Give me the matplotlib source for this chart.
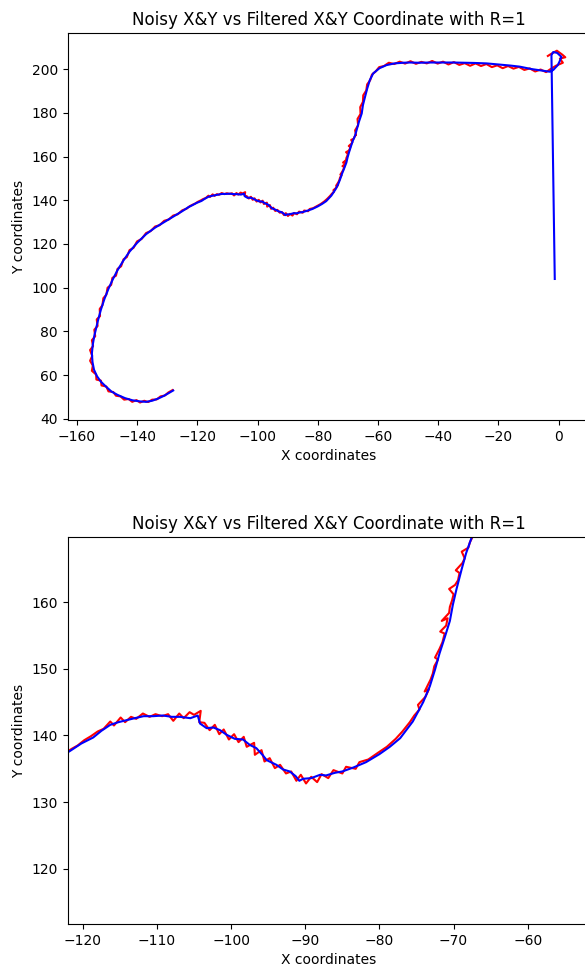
import numpy as np
import matplotlib; matplotlib.use('Agg')
import matplotlib.pyplot as plt

# filtered (Kalman) track
filt_x = [-1.3, -2.4, -1.8, -0.5, 0.9, 0.3, -0.3, -1.8, -3.0,
          -6.0, -9.0, -12.9, -16.0, -20.0, -24.0, -28.0, -31.5, -35.1, -39.0, -42.8,
          -46.5, -49.5, -51.6, -54.5, -57.2, -59.5, -61.6, -62.7, -63.6, -64.3, -65.0,
          -65.4, -66.3, -67.1, -67.6, -68.3, -68.9, -69.6, -70.1, -70.5, -71.2, -71.9,
          -72.5, -73.2, -74.1, -75.5, -77.2, -78.6, -80.0, -81.8, -83.5, -85.0, -86.0,
          -87.2, -88.0, -89.2, -90.3, -90.8, -91.3, -92.1, -93.0, -93.9, -95.2, -95.7,
          -96.6, -97.5, -98.4, -99.5, -100.6, -101.5, -102.4, -103.3, -104.2, -104.5,
          -105.5, -106.9, -108.0, -109.2, -110.5, -111.8, -113.0, -114.1, -115.2,
          -116.3, -117.5, -118.6, -120.2, -121.7, -123.0,
          -125.0, -128.0, -131.0, -134.0, -137.0, -140.0, -142.5, -144.5, -146.5,
          -148.0, -149.5, -150.8, -152.0, -152.8, -153.5, -154.2, -154.7, -155.0,
          -154.8, -154.3, -153.3, -152.0, -150.5, -148.5, -146.5, -144.0, -141.5,
          -139.0, -137.0, -135.0, -133.0, -131.0, -129.5, -128.0]
filt_y = [104.0, 206.4, 207.8, 207.4, 205.6, 203.5, 201.8, 199.6, 198.8,
          199.4, 200.0, 201.1, 201.6, 202.1, 202.6, 202.8, 202.9, 203.0, 203.0, 203.0,
          202.9, 203.0, 202.9, 202.6, 201.8, 200.4, 198.0, 195.0, 191.0, 187.3, 183.5,
          179.7, 176.0, 172.1, 169.6, 167.4, 165.0, 162.0, 159.6, 157.2, 154.7, 152.3,
          149.9, 147.4, 145.0, 142.1, 139.6, 138.3, 137.2, 136.0, 135.2, 134.6, 134.4,
          134.0, 134.1, 133.6, 133.5, 133.2, 133.9, 134.6, 134.9, 135.6, 136.3, 137.0,
          138.1, 138.6, 139.4, 139.5, 140.1, 140.8, 141.2, 141.1, 141.8, 143.0,
          142.6, 142.8, 142.8, 143.0, 142.9, 142.9, 142.6, 142.3, 142.0,
          141.6, 140.7, 139.7, 138.8, 137.7, 136.8,
          135.0, 132.5, 130.0, 127.5, 124.5, 120.5, 116.5, 112.5, 108.0,
          104.0, 99.5, 95.0, 90.0, 86.0, 82.0, 78.0, 74.0, 70.0,
          66.0, 62.5, 59.5, 57.0, 55.0, 52.5, 51.0, 49.5, 48.5,
          48.0, 47.8, 48.3, 49.3, 50.6, 51.8, 53.0]

# noisy measurements
noisy_x = [-3.6, -2.2, -0.6, 1.2, 2.2, 0.4, 1.4, -0.8, -2.5, -4.2,
           -6.0, -7.8, -9.6, -11.4, -13.2, -15.0, -16.8, -18.6, -20.4, -22.2,
           -24.0, -25.8, -27.6, -29.4, -31.2, -33.0, -34.8, -36.6, -38.4, -40.2,
           -42.0, -43.8, -45.6, -47.4, -49.2, -51.0, -52.8, -54.6, -56.4, -58.0,
           -59.6, -60.8, -62.0, -62.6, -63.6, -63.9, -64.9, -65.0, -65.9, -65.8,
           -66.8, -66.6, -67.6, -67.3,
           -67.4, -67.8, -68.0, -68.9, -68.5, -68.8, -69.7, -69.2, -69.4, -69.8,
           -70.6, -70.0, -70.2, -70.5, -70.6, -71.6, -70.8, -71.0, -71.8, -71.2,
           -71.5, -71.9, -72.5, -72.1, -72.6, -72.8, -73.1, -73.9, -73.3, -73.8,
           -74.8, -74.6, -75.3,
           -75.9, -76.9, -77.8, -79.0, -80.2, -81.5, -82.7, -83.2, -84.5, -85.0,
           -86.2, -86.9, -87.8, -88.4, -89.2, -89.9, -90.6, -91.2, -91.9, -92.6,
           -93.4, -94.1, -94.8, -95.5, -95.9, -96.8, -96.9, -97.9, -98.3, -99.0,
           -99.6, -100.3, -101.0, -101.6, -102.2, -102.9, -103.6, -104.3, -104.1,
           -105.0, -105.6, -106.4, -107.0, -107.8, -108.5, -109.3, -110.2, -111.0,
           -111.9, -112.8, -113.5, -114.3, -114.9, -115.8, -116.3, -117.2, -118.0,
           -118.9, -119.8, -120.7, -121.5, -122.5, -123.5,
           -125.0, -126.5, -128.0, -129.5, -131.0, -132.5, -134.0, -135.5, -137.0,
           -138.5, -140.0, -141.2, -142.5, -143.4, -144.5, -145.3, -146.5, -147.0,
           -148.2, -148.6, -149.8, -150.2, -151.2, -151.5, -152.4, -152.3, -153.4,
           -153.1, -154.2, -153.9, -155.0, -154.6, -155.6, -154.9, -155.6, -154.7,
           -155.0, -153.6, -153.5, -152.0, -151.8, -150.2, -149.5, -147.9, -147.0,
           -145.5, -144.3, -142.8, -141.6, -140.2, -139.0, -137.6, -136.3, -135.0,
           -133.5, -132.2, -130.8, -129.6, -128.2]
noisy_y = [206.0, 207.2, 208.4, 206.6, 205.4, 204.8, 202.9, 201.6, 200.2, 198.6,
           199.8, 198.9, 200.3, 199.6, 201.0, 200.2, 201.4, 200.4, 201.7, 200.9,
           202.3, 201.4, 202.6, 201.5, 202.7, 201.9, 203.2, 202.1, 203.4, 202.5,
           203.7, 202.6, 203.3, 202.4, 203.6, 202.5, 203.4, 202.3, 202.9, 201.4,
           200.9, 198.9, 197.5, 194.9, 193.0, 190.2, 188.0, 185.0, 182.6, 179.5,
           177.2, 174.3, 172.0, 169.8,
           169.9, 169.0, 168.2, 167.6, 166.6, 165.9, 164.8, 164.4, 163.3, 162.6,
           162.0, 161.2, 160.3, 159.3, 158.4, 157.2, 157.6, 156.5, 155.6, 155.3,
           154.0, 153.0, 151.7, 151.4, 150.4, 149.3, 148.4, 146.6, 147.0, 145.8,
           144.6, 143.9, 143.0,
           142.0, 140.6, 139.5, 138.3, 137.4, 136.4, 136.0, 135.0, 135.3, 134.3,
           134.8, 133.6, 134.2, 133.0, 133.8, 132.8, 134.1, 133.2, 134.6, 134.3,
           135.6, 135.1, 136.6, 136.1, 137.8, 137.1, 138.9, 138.3, 139.8, 139.0,
           140.2, 139.4, 140.9, 140.2, 141.6, 140.8, 141.9, 142.0, 143.7,
           143.1, 143.5, 142.6, 143.3, 142.2, 143.2, 142.9, 143.2, 142.8,
           143.3, 142.5, 142.8, 142.0, 142.7, 141.5, 142.1, 141.0, 140.6,
           139.9, 139.3, 138.5, 138.0, 137.3, 136.2,
           135.4, 133.6, 133.0, 131.2, 130.6, 128.6, 128.0, 125.9, 125.0,
           122.3, 121.2, 118.2, 117.2, 114.0, 113.0, 109.8, 108.6, 105.5,
           104.5, 101.3, 100.0, 96.8, 95.2, 92.0, 90.3, 87.0, 85.5,
           82.5, 80.8, 77.8, 76.0, 73.3, 71.5, 68.8, 66.6, 64.4,
           62.0, 60.3, 58.0, 57.5, 55.3, 54.8, 52.6, 52.3, 50.6,
           50.3, 48.8, 49.1, 47.8, 48.6, 47.5, 48.3, 47.7, 48.8,
           48.9, 50.3, 50.7, 52.1, 53.2]

title = 'Noisy X&Y vs Filtered X&Y Coordinate with R=1'

fig = plt.figure(figsize=(5.85, 9.69), dpi=100)
W, H = 585.0, 969.0
ax1 = fig.add_axes([67.5/W, 1 - 420/H, 522.5/W, 387/H])
ax2 = fig.add_axes([68/W, 1 - 924/H, 522/W, 387/H])

for ax in (ax1, ax2):
    ax.plot(noisy_x, noisy_y, color='red', lw=1.5)
    ax.plot(filt_x, filt_y, color='blue', lw=1.5)
    ax.set_title(title, fontsize=12)
    ax.set_xlabel('X coordinates')
    ax.set_ylabel('Y coordinates')

ax1.set_xlim(-163.1, 10.4)
ax1.set_ylim(39.5, 216.5)
ax2.set_xlim(-122, -51.6)
ax2.set_ylim(111.7, 169.8)

plt.savefig('out.png', dpi=100)
